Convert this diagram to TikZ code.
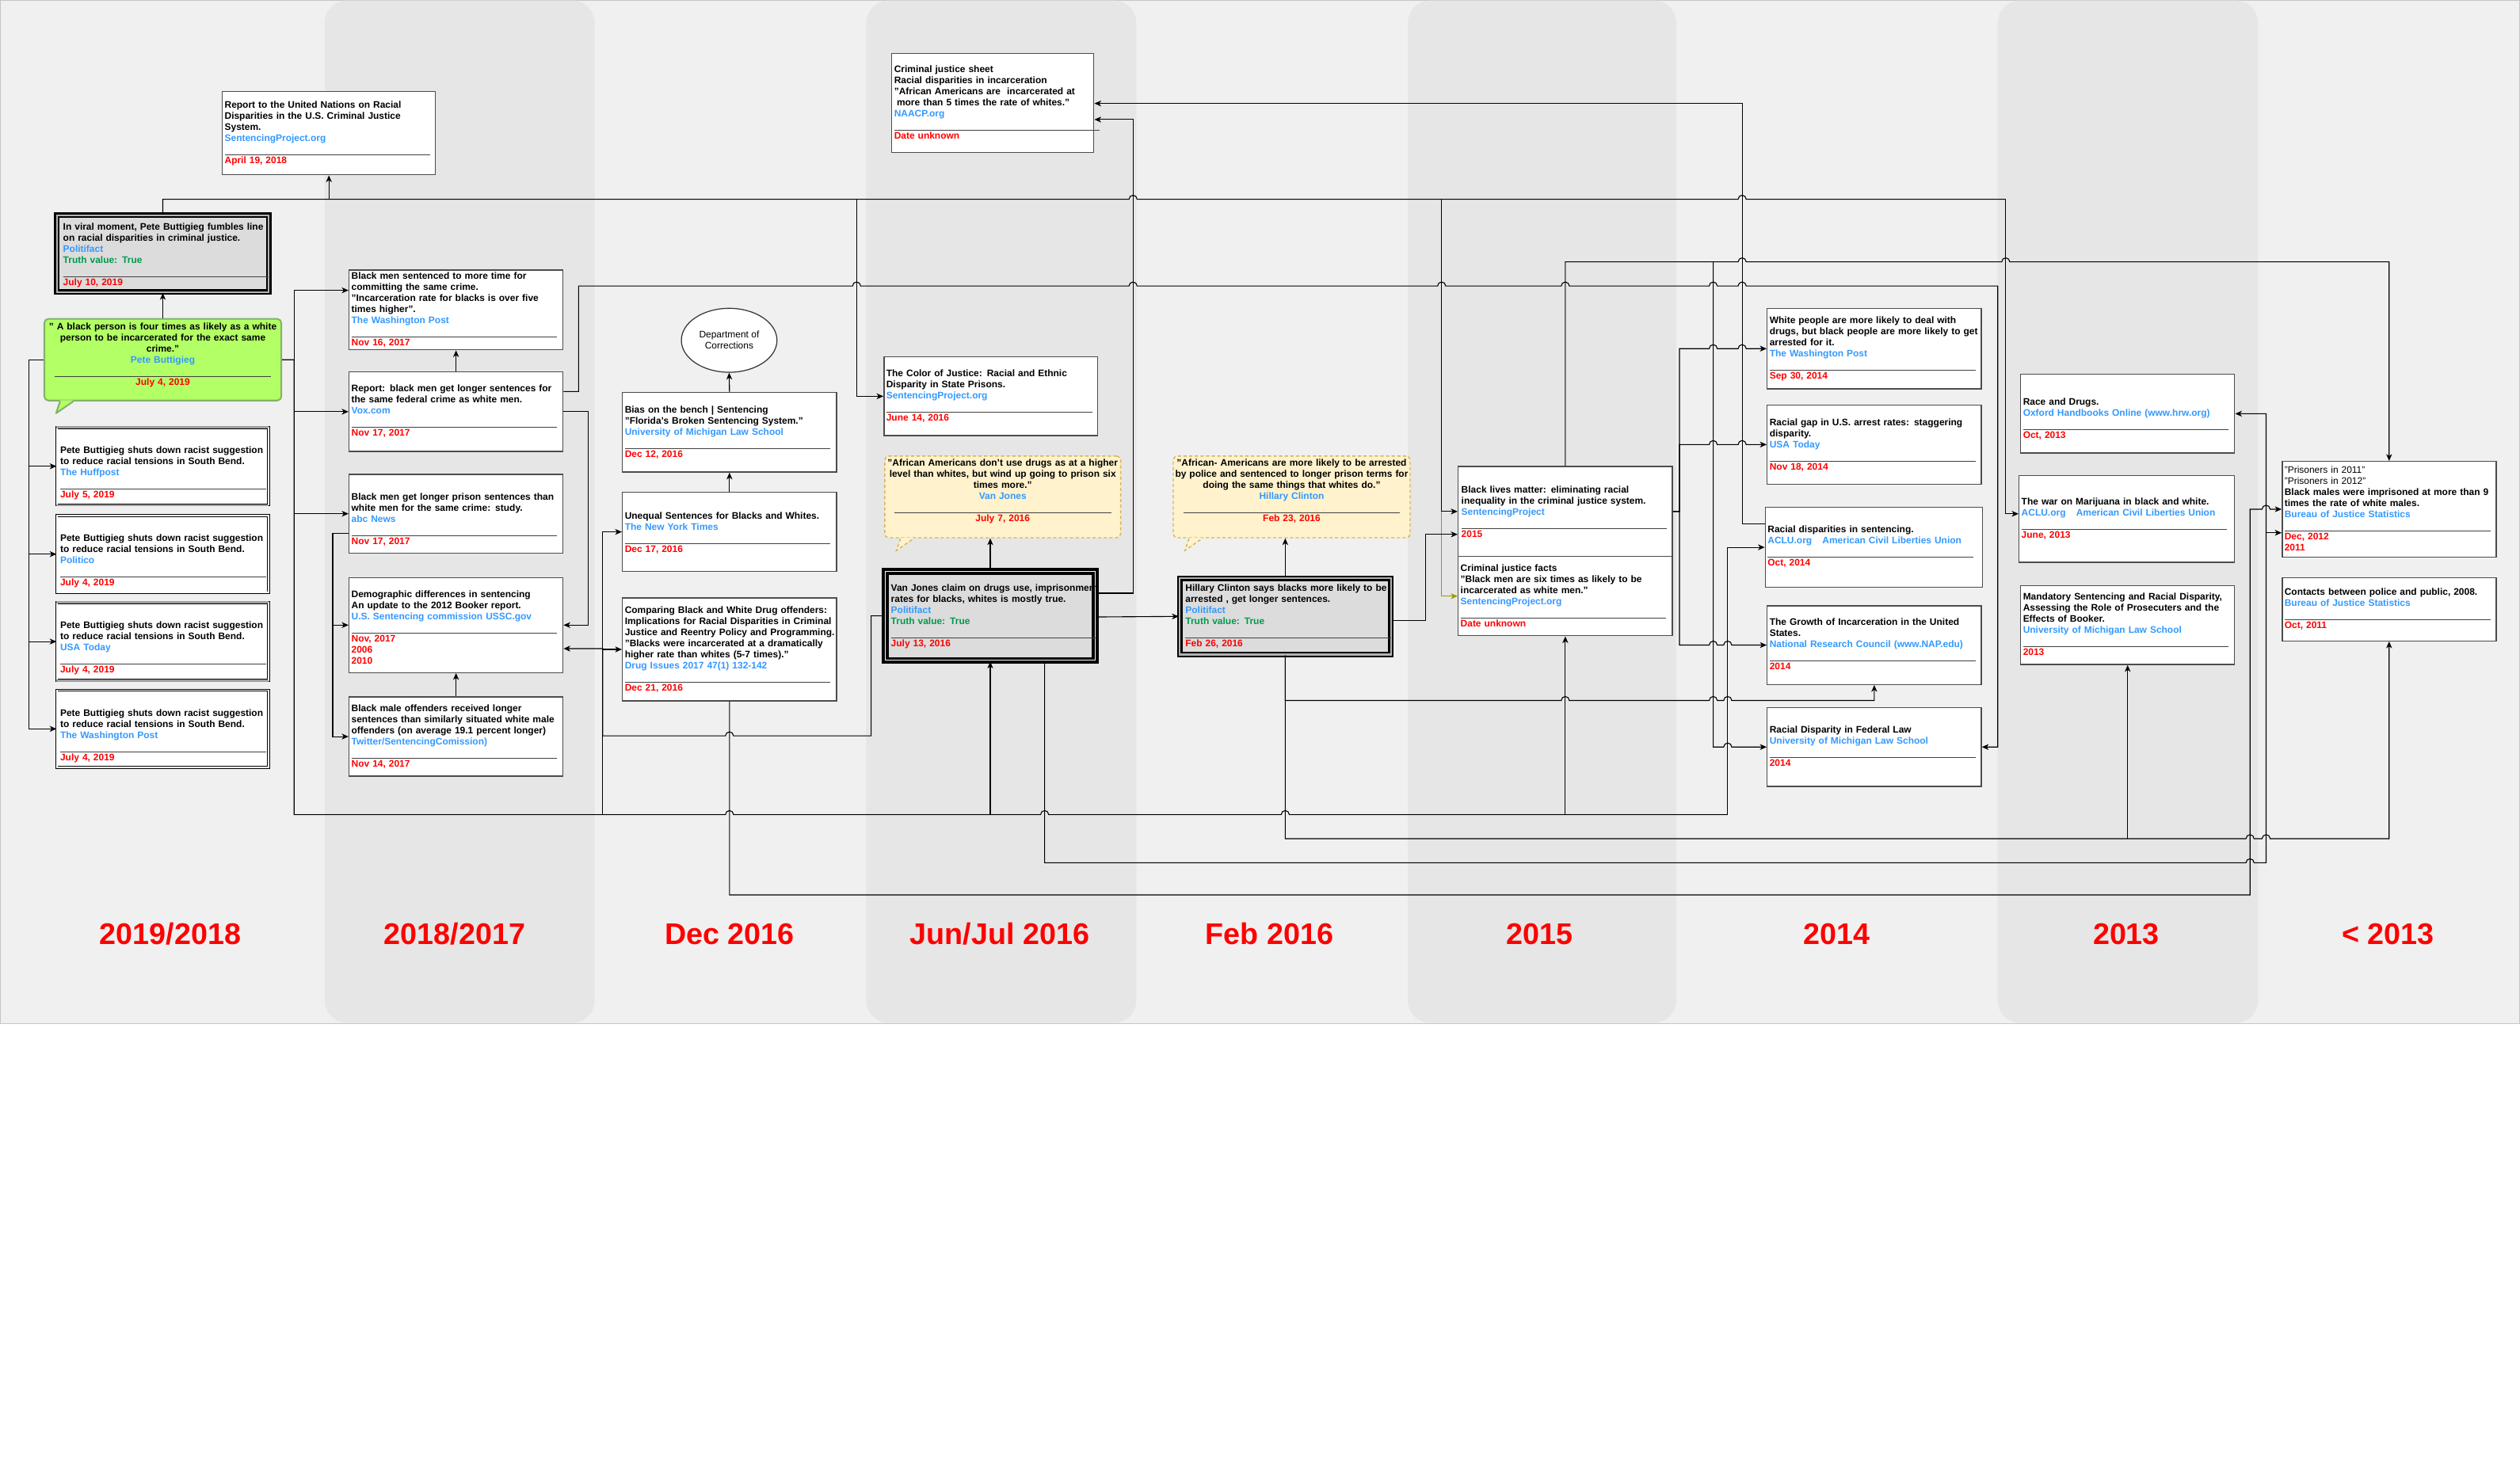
\documentclass[tikz,border=0pt]{standalone}
\usepackage{fontspec}
\setmainfont{Liberation Sans}
\usetikzlibrary{arrows.meta,shapes.geometric,calc}
\definecolor{srcblue}{HTML}{3399FF}
\definecolor{datered}{HTML}{FF0000}
\definecolor{truegreen}{HTML}{00994D}
\definecolor{lanedark}{HTML}{E6E6E6}
\definecolor{lanelight}{HTML}{F0F0F0}
\definecolor{calgreen}{HTML}{B3FF66}
\definecolor{calgreenb}{HTML}{82B366}
\definecolor{calyel}{HTML}{FFF2CC}
\definecolor{calyelb}{HTML}{D6B656}
\definecolor{pfgray}{HTML}{DCDCDC}
\definecolor{olivearr}{HTML}{999900}
\newcommand\src[1]{\textcolor{srcblue}{#1}}
\newcommand\dt[1]{\textcolor{datered}{#1}}
\newcommand\tv{\textcolor{truegreen}{Truth value: True}}
\newcommand\rl[1][128pt]{\textcolor{black!75}{\rule[-1.7pt]{#1}{0.5pt}}}
\newcommand\hopr[2]{-- ($(#1|-#2)+(-2.5,0)$) arc[start angle=180,end angle=360,radius=2.5]}
\newcommand\hopl[2]{-- ($(#1|-#2)+(2.5,0)$) arc[start angle=0,end angle=-180,radius=2.5]}
\begin{document}
\begin{tikzpicture}[x=1pt,y=-1pt,
  card/.style={rectangle, draw=black!70, line width=0.7pt, fill=white, inner sep=0pt},
  pete/.style={rectangle, draw=black, line width=0.45pt, double=white, double distance=0.8pt, fill=white, inner sep=0pt, minimum width=131.7pt},
  pf/.style={rectangle, draw=black, line width=1.2pt, double=gray!60, double distance=1pt, fill=pfgray, inner sep=0pt},
  pfw/.style={rectangle, draw=black, line width=1.7pt, double=white, double distance=0.7pt, fill=pfgray, inner sep=0pt},
  calg/.style={rectangle, rounded corners=2.5pt, draw=calgreenb, line width=1pt, fill=calgreen, inner sep=0pt},
  caly/.style={rectangle, rounded corners=2.5pt, draw=calyelb, line width=0.7pt, dash pattern=on 2pt off 1.5pt, fill=calyel, inner sep=0pt},
  txt/.style={anchor=base west, inner sep=0pt, align=left, text width=170pt, font=\fontsize{5.9}{6.9}\selectfont\bfseries},
  ctxt/.style={anchor=base, inner sep=0pt, align=center, text width=152pt, font=\fontsize{5.9}{6.9}\selectfont\bfseries},
  year/.style={anchor=base, inner sep=0pt, text=datered, font=\fontsize{18.6}{22}\selectfont\bfseries},
  ln/.style={line width=0.55pt},
  arr/.style={line width=0.55pt, -{Stealth[length=4.2pt,width=3.6pt,inset=1.2pt]}},
  ]
\useasboundingbox (0,0) rectangle (1568,907);
\fill[white] (0,0) rectangle (1568,907);
\filldraw[fill=lanelight, draw=gray!45, line width=0.6pt] (0.3,0.3) rectangle (1567.7,637);
\foreach \a/\b in {202/370,539/707,876/1043,1243/1405}{\fill[lanedark, rounded corners=14pt] (\a,0.3) rectangle (\b,636.7);}

% year labels
\node[year] (yr1) at (106,587.7) {2019/2018};
\node[year] (yr2) at (283,587.7) {2018/2017};
\node[year] (yr3) at (454,587.7) {Dec 2016};
\node[year] (yr4) at (622,587.7) {Jun/Jul 2016};
\node[year] (yr5) at (790,587.7) {Feb 2016};
\node[year] (yr6) at (958,587.7) {2015};
\node[year] (yr7) at (1143,587.7) {2014};
\node[year] (yr8) at (1323,587.7) {2013};
\node[year] (yr9) at (1486,587.7) {< 2013};

% ---- 2019/2018 ----
\node[card, minimum width=132.7pt, minimum height=51.8pt] (un) at (204.65,82.9) {};
\node[txt] (unT) at (139.6,67.5) {Report to the United Nations on Racial\\Disparities in the U.S. Criminal Justice\\System.\\\src{SentencingProject.org}\\\rl\\\dt{April 19, 2018}};

\node[pf, minimum width=131.8pt, minimum height=47.8pt] (butt) at (101.3,157.9) {};
\node[txt] (buttT) at (39.1,143) {In viral moment, Pete Buttigieg fumbles line\\on racial disparities in criminal justice.\\\src{Politifact}\\\tv\\\rl\\\dt{July 10, 2019}};

\node[calg, minimum width=147.4pt, minimum height=50.8pt] (pq) at (101.3,223.9) {};
\fill[calgreen] (37.4,249.1) -- (34.9,257.2) -- (45.6,249.1) -- cycle;
\draw[calgreenb, line width=1pt, line join=round] (37.4,249.8) -- (34.9,257.2) -- (45.6,249.8);
\node[ctxt] (pqT) at (101.3,205.4) {" A black person is four times as likely as a white\\person to be incarcerated for the exact same\\crime."\\\src{Pete Buttigieg}\\\rl[135pt]\\\dt{July 4, 2019}};

\node[pete, minimum height=48.1pt] (pb1) at (101.2,290.2) {};
\node[txt] (pb1T) at (37.3,282.3) {Pete Buttigieg shuts down racist suggestion\\to reduce racial tensions in South Bend.\\\src{The Huffpost}\\\rl\\\dt{July 5, 2019}};
\node[pete, minimum height=47.9pt] (pb2) at (101.2,344.9) {};
\node[txt] (pb2T) at (37.3,337.1) {Pete Buttigieg shuts down racist suggestion\\to reduce racial tensions in South Bend.\\\src{Politico}\\\rl\\\dt{July 4, 2019}};
\node[pete, minimum height=48.3pt] (pb3) at (101.2,399.3) {};
\node[txt] (pb3T) at (37.3,391.3) {Pete Buttigieg shuts down racist suggestion\\to reduce racial tensions in South Bend.\\\src{USA Today}\\\rl\\\dt{July 4, 2019}};
\node[pete, minimum height=48pt] (pb4) at (101.2,453.65) {};
\node[txt] (pb4T) at (37.3,445.8) {Pete Buttigieg shuts down racist suggestion\\to reduce racial tensions in South Bend.\\\src{The Washington Post}\\\rl\\\dt{July 4, 2019}};
\foreach \p in {pb1,pb3}{
  \draw[gray!75, line width=1.4pt] (\p.north west) -- (\p.north east);
  \draw[gray!75, line width=1.4pt] (\p.south west) -- (\p.south east);}

% ---- 2018/2017 ----
\node[card, minimum width=133.1pt, minimum height=49.6pt] (wp17) at (283.75,192.9) {};
\node[txt] (wp17T) at (218.5,174) {Black men sentenced to more time for\\committing the same crime.\\"Incarceration rate for blacks is over five\\times higher".\\\src{The Washington Post}\\\rl\\\dt{Nov 16, 2017}};
\node[card, minimum width=133.1pt, minimum height=49.5pt] (vox) at (283.75,256.25) {};
\node[txt] (voxT) at (218.5,243.7) {Report: black men get longer sentences for\\the same federal crime as white men.\\\src{Vox.com}\\\rl\\\dt{Nov 17, 2017}};
\node[card, minimum width=133.1pt, minimum height=48.9pt] (abc) at (283.75,319.75) {};
\node[txt] (abcT) at (218.5,311.4) {Black men get longer prison sentences than\\white men for the same crime: study.\\\src{abc News}\\\rl\\\dt{Nov 17, 2017}};
\node[card, minimum width=133.1pt, minimum height=59.1pt] (ussc) at (283.75,389.05) {};
\node[txt] (usscT) at (218.5,372) {Demographic differences in sentencing\\An update to the 2012 Booker report.\\\src{U.S. Sentencing commission USSC.gov}\\\rl\\\dt{Nov, 2017}\\\dt{2006}\\\dt{2010}};
\node[card, minimum width=133.1pt, minimum height=49.3pt] (twit) at (283.75,458.45) {};
\node[txt] (twitT) at (218.5,442.8) {Black male offenders received longer\\sentences than similarly situated white male\\offenders (on average 19.1 percent longer)\\\src{Twitter/SentencingComission)}\\\rl\\\dt{Nov 14, 2017}};

% ---- Dec 2016 ----
\node[ellipse, draw=black!80, line width=0.6pt, fill=white, minimum width=59.5pt, minimum height=39.8pt, inner sep=0pt, align=center, font=\fontsize{5.9}{6.9}\selectfont] (doc) at (453.7,211.8) {Department of\\Corrections};
\node[card, minimum width=133.2pt, minimum height=49.5pt] (bias) at (453.9,269.05) {};
\node[txt] (biasT) at (388.6,257.2) {Bias on the bench | Sentencing\\"Florida's Broken Sentencing System."\\\src{University of Michigan Law School}\\\rl\\\dt{Dec 12, 2016}};
\node[card, minimum width=133.2pt, minimum height=49.3pt] (uneq) at (453.9,331.05) {};
\node[txt] (uneqT) at (388.6,322.9) {Unequal Sentences for Blacks and Whites.\\\src{The New York Times}\\\rl\\\dt{Dec 17, 2016}};
\node[card, minimum width=133.2pt, minimum height=64pt] (comp) at (453.9,404.2) {};
\node[txt] (compT) at (388.6,382) {Comparing Black and White Drug offenders:\\Implications for Racial Disparities in Criminal\\Justice and Reentry Policy and Programming.\\"Blacks were incarcerated at a dramatically\\higher rate than whites (5-7 times)."\\\src{Drug Issues 2017 47(1) 132-142}\\\rl\\\dt{Dec 21, 2016}};

% ---- Jun/Jul 2016 ----
\node[card, minimum width=125.7pt, minimum height=61.8pt] (cjs) at (617.75,64.1) {};
\node[txt] (cjsT) at (556.2,45.3) {Criminal justice sheet\\Racial disparities in incarceration\\"African Americans are\ \ incarcerated at\\\hspace*{1.6pt}more than 5 times the rate of whites."\\\src{NAACP.org}\\\rl\\\dt{Date unknown}};
\node[card, minimum width=133pt, minimum height=48.9pt] (coj) at (616.5,246.65) {};
\node[txt] (cojT) at (551.3,234.6) {The Color of Justice: Racial and Ethnic\\Disparity in State Prisons.\\\src{SentencingProject.org}\\\rl\\\dt{June 14, 2016}};

\node[caly, minimum width=146.8pt, minimum height=50.8pt] (vq) at (623.9,309.3) {};
\fill[calyel] (560.3,334.8) -- (557.8,342.6) -- (568.5,334.8) -- cycle;
\draw[calyelb, line width=0.7pt, dash pattern=on 2pt off 1.5pt] (560.3,335.2) -- (557.8,342.6) -- (568.5,335.2);
\node[ctxt] (vqT) at (623.9,290.3) {"African Americans don't use drugs as at a higher\\level than whites, but wind up going to prison six\\times more."\\\src{Van Jones}\\\rl[135pt]\\\dt{July 7, 2016}};

\node[pfw, minimum width=130.6pt, minimum height=55.3pt] (vj) at (616.15,383.3) {};
\node[txt] (vjT) at (554.2,368.2) {Van Jones claim on drugs use, imprisonment\\rates for blacks, whites is mostly true.\\\src{Politifact}\\\tv\\\rl\\\dt{July 13, 2016}};

% ---- Feb 2016 ----
\node[caly, minimum width=147.4pt, minimum height=50.8pt] (hq) at (803.7,309.3) {};
\fill[calyel] (739.8,334.8) -- (737.3,342.6) -- (748,334.8) -- cycle;
\draw[calyelb, line width=0.7pt, dash pattern=on 2pt off 1.5pt] (739.8,335.2) -- (737.3,342.6) -- (748,335.2);
\node[ctxt] (hqT) at (803.7,290.3) {"African- Americans are more likely to be arrested\\by police and sentenced to longer prison terms for\\doing the same things that whites do."\\\src{Hillary Clinton}\\\rl[135pt]\\\dt{Feb 23, 2016}};

\node[pf, minimum width=131.4pt, minimum height=47.5pt] (hc) at (799.7,383.65) {};
\node[txt] (hcT) at (737.4,368.2) {Hillary Clinton says blacks more likely to be\\arrested , get longer sentences.\\\src{Politifact}\\\tv\\\rl\\\dt{Feb 26, 2016}};

% ---- 2015 ----
\node[card, minimum width=133.3pt, minimum height=56.1pt] (blm) at (973.95,318.35) {};
\node[txt] (blmT) at (909.1,306.9) {Black lives matter: eliminating racial\\inequality in the criminal justice system.\\\src{SentencingProject}\\\rl\\\dt{2015}};
\node[card, minimum width=133.3pt, minimum height=49.3pt] (cjf) at (973.95,371.05) {};
\node[txt] (cjfT) at (908.6,355.6) {Criminal justice facts\\"Black men are six times as likely to be\\incarcerated as white men."\\\src{SentencingProject.org}\\\rl\\\dt{Date unknown}};

% ---- 2014 ----
\node[card, minimum width=133.2pt, minimum height=50pt] (w1) at (1166.2,217) {};
\node[txt] (w1T) at (1100.9,201.4) {White people are more likely to deal with\\drugs, but black people are more likely to get\\arrested for it.\\\src{The Washington Post}\\\rl\\\dt{Sep 30, 2014}};
\node[card, minimum width=133.2pt, minimum height=49.4pt] (w2) at (1166.2,276.7) {};
\node[txt] (w2T) at (1100.9,264.8) {Racial gap in U.S. arrest rates: staggering\\disparity.\\\src{USA Today}\\\rl\\\dt{Nov 18, 2014}};
\node[card, minimum width=135pt, minimum height=49.9pt] (w3) at (1165.9,340.65) {};
\node[txt] (w3T) at (1099.7,331.7) {Racial disparities in sentencing.\\\src{ACLU.org\hspace{6.5pt}American Civil Liberties Union}\\\rl\\\dt{Oct, 2014}};
\node[card, minimum width=133.2pt, minimum height=49pt] (w4) at (1166.2,401.5) {};
\node[txt] (w4T) at (1100.9,389.4) {The Growth of Incarceration in the United\\States.\\\src{National Research Council (www.NAP.edu)}\\\rl\\\dt{2014}};
\node[card, minimum width=133.2pt, minimum height=49.1pt] (w5) at (1166.2,464.95) {};
\node[txt] (w5T) at (1100.9,456.4) {Racial Disparity in Federal Law\\\src{University of Michigan Law School}\\\rl\\\dt{2014}};

% ---- 2013 ----
\node[card, minimum width=133.1pt, minimum height=49pt] (race) at (1323.85,257.5) {};
\node[txt] (raceT) at (1258.6,252) {Race and Drugs.\\\src{Oxford Handbooks Online (www.hrw.org)}\\\rl\\\dt{Oct, 2013}};
\node[card, minimum width=134.1pt, minimum height=53.9pt] (mj) at (1323.35,323.05) {};
\node[txt] (mjT) at (1257.6,314.2) {The war on Marijuana in black and white.\\\src{ACLU.org\hspace{6.5pt}American Civil Liberties Union}\\\rl\\\dt{June, 2013}};
\node[card, minimum width=133.1pt, minimum height=49.2pt] (mand) at (1323.85,389) {};
\node[txt] (mandT) at (1258.6,373.5) {Mandatory Sentencing and Racial Disparity,\\Assessing the Role of Prosecuters and the\\Effects of Booker.\\\src{University of Michigan Law School}\\\rl\\\dt{2013}};

% ---- < 2013 ----
\node[card, minimum width=133.1pt, minimum height=59.5pt] (pris) at (1486.55,316.95) {};
\node[txt] (prisT) at (1421.3,294.4) {{\mdseries "Prisoners in 2011"}\\{\mdseries "Prisoners in 2012"}\\Black males were imprisoned at more than 9\\times the rate of white males.\\\src{Bureau of Justice Statistics}\\\rl\\\dt{Dec, 2012}\\\dt{2011}};
\node[card, minimum width=133.1pt, minimum height=39.4pt] (cont) at (1486.55,379.2) {};
\node[txt] (contT) at (1421.3,370.3) {Contacts between police and public, 2008.\\\src{Bureau of Justice Statistics}\\\rl\\\dt{Oct, 2011}};

% ---- routing coordinates ----
\coordinate (h124) at (0,124);
\coordinate (h163) at (0,163);
\coordinate (h178) at (0,178);
\coordinate (h436) at (0,436);
\coordinate (h458) at (0,458);
\coordinate (h507) at (0,507);
\coordinate (h522) at (0,522);
\coordinate (h537) at (0,537);
\coordinate (h557) at (0,557);
\coordinate (v18) at (18,0);
\coordinate (v183) at (183,0);
\coordinate (v207) at (207,0);
\coordinate (v360) at (360,0);
\coordinate (v366) at (366,0);
\coordinate (v375) at (375,0);
\coordinate (v533) at (533,0);
\coordinate (v542) at (542,0);
\coordinate (v705) at (705,0);
\coordinate (v887) at (887,0);
\coordinate (v897) at (897,0);
\coordinate (v1045) at (1045,0);
\coordinate (v1066) at (1066,0);
\coordinate (v1075) at (1075,0);
\coordinate (v1084) at (1084,0);
\coordinate (v1243) at (1243,0);
\coordinate (v1248) at (1248,0);
\coordinate (v1400) at (1400,0);
\coordinate (v1410) at (1410,0);
\coordinate (wp17in) at ($(wp17.west)+(0,-12.2)$);
\coordinate (abcout) at ($(abc.west)+(0,12.45)$);
\coordinate (voxo1) at ($(vox.east)+(0,-12.55)$);
\coordinate (usscin2) at ($(ussc.east)+(0,14.65)$);
\coordinate (cjsin1) at ($(cjs.east)+(0,0.3)$);
\coordinate (cjsin2) at ($(cjs.east)+(0,10.3)$);
\coordinate (vjo1) at ($(vj.east)+(0,-14.1)$);
\coordinate (vjo2) at ($(vj.east)+(0,0.7)$);
\coordinate (vjb) at ($(vj.south)+(33.85,0)$);
\coordinate (blmin2) at ($(blm.west)+(0,14.25)$);
\coordinate (hco) at ($(hc.east)+(0,2.35)$);
\coordinate (w3o) at ($(w3.west)+(0,-14.55)$);
\coordinate (mjin) at ($(mj.west)+(0,-3.25)$);
\coordinate (prisin2) at ($(pris.west)+(0,14.65)$);

% ---- connectors ----
\draw[arr] (pq.north) -- (butt.south);
% Politifact (Buttigieg) trunk at y=124
\draw[ln] (butt.north) |- (un.south |- h124) \hopr{v705}{h124} \hopr{v1084}{h124} -- (v1248 |- h124);
\draw[arr] (un.south |- h124) -- (un.south);
\draw[arr] (v533 |- h124) |- (coj.west);
\draw[arr] (v897 |- h124) |- (blm.west);
\draw[arr, olivearr] (v897 |- blm.west) |- (cjf.west);
\draw[arr] (v1248 |- h124) |- (mjin);

% quote -> news articles
\foreach \p in {pb1,pb2,pb3,pb4}{\draw[arr] (pq.west) -| (v18 |- \p.west) -- (\p.west);}
\draw[ln] (pq.east) -| (v183 |- h507) \hopr{comp.south}{h507} -- (vj.south |- h507) \hopr{vjb}{h507} \hopr{hc.south}{h507} -- (v1075 |- h507);
\draw[arr] (v183 |- pq.east) |- (wp17in);
\draw[arr] (v183 |- pq.east) |- (vox.west);
\draw[arr] (v183 |- pq.east) |- (abc.west);
\draw[arr] (vj.south |- h507) -- (vj.south);
\draw[arr] (cjf.south |- h507) -- (cjf.south);
\draw[arr] (v1075 |- h507) |- (w3.west);
\draw[arr] (v375 |- h507) |- (uneq.west);
\draw[arr] (v375 |- h507) |- (comp.west);

\draw[arr] (abcout) -| (v207 |- ussc.west) -- (ussc.west);
\draw[arr] (v207 |- abcout) |- (twit.west);
\draw[arr] (voxo1) -| (v360 |- h178) \hopr{v533}{h178} \hopr{v705}{h178} \hopr{v897}{h178} \hopr{blm.north}{h178} \hopr{v1066}{h178} \hopr{v1084}{h178} -| (v1243 |- w5.east) -- (w5.east);
\draw[arr] (vox.east) -| (v366 |- ussc.east) -- (ussc.east);
\draw[arr] (vj.west) -| (v542 |- h458) \hopl{comp.south}{h458} -| (v375 |- usscin2) -- (usscin2);

\draw[arr] (vox.north) -- (wp17.south);
\draw[arr] (twit.north) -- (ussc.south);
\draw[arr] (bias.north) -- (doc.south);
\draw[arr] (uneq.north) -- (bias.south);
\draw[arr] (comp.south) |- (v1400 |- h557) -- (v1400 |- pris.west) \hopr{v1410}{pris.west} -- (pris.west);
\draw[arr] (vj.north) -- (vj.north |- vq.south);
\draw[arr] (vjo1) -| (v705 |- cjsin2) -- (cjsin2);
\draw[arr] (vjo2) -- (hc.west);
\draw[arr] (vjb) -- (vjb |- h537) \hopr{v1400}{h537} -- (v1410 |- h537) |- (race.east);
\draw[arr] (v1410 |- prisin2) -- (prisin2);
\draw[arr] (hc.north) -- (hc.north |- hq.south);
\draw[arr] (hc.south) -- (hc.south |- h522) -- (mand.south |- h522) \hopr{v1400}{h522} \hopr{v1410}{h522} -| (cont.south);
\draw[arr] (mand.south |- h522) -- (mand.south);
\draw[arr] (hc.south) -- (hc.south |- h436) \hopr{cjf.south}{h436} \hopr{v1066}{h436} \hopr{v1075}{h436} -| (w4.south);
\draw[arr] (blm.north) |- (v1066 |- h163) \hopr{v1084}{h163} \hopr{v1248}{h163} -| (pris.north);
\draw[arr] (v1066 |- h163) -- (v1066 |- w5.west) \hopr{v1075}{w5.west} -- (w5.west);
\draw[arr] (hco) -| (v887 |- blmin2) -- (blmin2);
\draw[arr] (blm.east) -| (v1045 |- w1.west) \hopr{v1066}{w1.west} \hopr{v1084}{w1.west} -- (w1.west);
\draw[arr] (blm.east) -| (v1045 |- w2.west) \hopr{v1066}{w2.west} \hopr{v1084}{w2.west} -- (w2.west);
\draw[arr] (blm.east) -| (v1045 |- w4.west) \hopr{v1066}{w4.west} \hopr{v1075}{w4.west} -- (w4.west);
\draw[arr] (w3o) -| (v1084 |- cjsin1) -- (cjsin1);
\end{tikzpicture}
\end{document}
